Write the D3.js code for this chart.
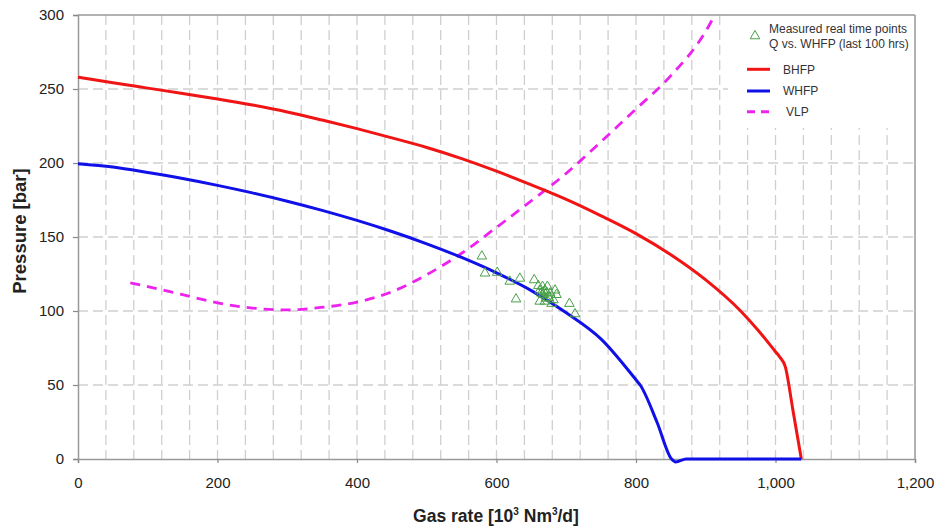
<!DOCTYPE html>
<html><head><meta charset="utf-8">
<script src="https://cdn.jsdelivr.net/npm/d3@7"></script>
<style>
body{margin:0;background:#fff}
svg{display:block;font-family:"Liberation Sans",Arial,sans-serif}
</style>
</head><body>
<svg id="chart" width="936" height="529"></svg>
<script>
// ---- data ----
const bhfpQ = [0, 50, 100, 150, 200, 250, 300, 350, 400, 450, 500, 550, 600, 650, 700, 750, 800, 850, 900, 950, 975, 1000, 1006, 1014, 1025, 1037];
const bhfpP = [258, 254.2, 250.6, 247, 243.3, 239.2, 234.5, 229, 223.2, 217, 210.5, 203, 194.5, 185.2, 175.4, 164.3, 152.3, 138, 121, 100, 87, 72.5, 69, 62.4, 33, 0];

const whfpQ = [0, 50, 100, 150, 200, 250, 300, 350, 400, 450, 500, 550, 600, 650, 700, 750, 800, 806, 830, 851, 857, 872, 950, 1037];
const whfpP = [199.5, 197.3, 193.6, 189.5, 184.9, 179.8, 174.2, 168, 161.2, 153.7, 145.4, 136.2, 125.8, 113.8, 98.8, 81, 53.5, 50, 25, 0, -2, 0, 0, 0];

const vlpQ = [75, 100, 150, 200, 250, 300, 350, 400, 450, 500, 550, 600, 650, 700, 750, 800, 850, 900, 913];
const vlpP = [119, 116.5, 111, 105.5, 102, 100.7, 102.5, 106, 113, 124.5, 139, 156.5, 174.5, 193, 214.5, 236.5, 259, 289, 300];

const measQ = [579, 583.5, 601, 619, 633.5, 628, 654, 662, 667, 669.5, 673, 662, 669.5, 677, 684, 686, 681.5, 679, 704.5, 712.5, 666, 671, 664, 675, 672, 668, 660];
const measP = [137, 125.5, 126, 120, 122, 108, 121, 114, 111, 114, 116.5, 106.5, 106.5, 112, 114, 111, 107.5, 105, 105, 98, 116.5, 108.5, 112, 109, 112.5, 113, 117];

const xTicks = [0, 200, 400, 600, 800, 1000, 1200];
const yTicks = [0, 50, 100, 150, 200, 250, 300];
const legendLabels = ["BHFP", "WHFP", "VLP"];

// ---- layout ----
const svg = d3.select("#chart");
const L = 78, R = 915, T = 15, B = 459;
const x = d3.scaleLinear().domain([0, 1200]).range([L, R]);
const y = d3.scaleLinear().domain([0, 300]).range([B, T]);

// grid
const grid = svg.append("g");
grid.selectAll("line.v").data(d3.range(40, 1200, 40)).join("line")
  .attr("x1", d => x(d)).attr("x2", d => x(d)).attr("y1", T).attr("y2", B)
  .attr("stroke", "#cfcfcf").attr("stroke-width", 1.3).attr("stroke-dasharray", "10,5");
grid.selectAll("line.h").data(d3.range(50, 300, 50)).join("line")
  .attr("x1", L).attr("x2", R).attr("y1", d => y(d)).attr("y2", d => y(d))
  .attr("stroke", "#cfcfcf").attr("stroke-width", 1.3).attr("stroke-dasharray", "10,5");

// legend background (covers grid)
svg.append("rect").attr("x", 728).attr("y", T).attr("width", R - 728).attr("height", 113).attr("fill", "#fff");

// frame top/right
svg.append("line").attr("x1", L).attr("x2", R).attr("y1", T).attr("y2", T).attr("stroke", "#999").attr("stroke-width", 1.5);
svg.append("line").attr("x1", R).attr("x2", R).attr("y1", T).attr("y2", B).attr("stroke", "#999").attr("stroke-width", 1.5);

// axes
const fmt = d3.format(",");
const ax = svg.append("g").attr("transform", `translate(0,${B})`)
  .call(d3.axisBottom(x).tickValues(xTicks).tickFormat(fmt).tickSize(4).tickPadding(14));
const ay = svg.append("g").attr("transform", `translate(${L},0)`)
  .call(d3.axisLeft(y).tickValues(yTicks).tickFormat(fmt).tickSize(5).tickPadding(9));
[ax, ay].forEach(g => {
  g.select(".domain").attr("stroke", "#999").attr("stroke-width", 1.5);
  g.selectAll(".tick line").attr("stroke", "#888").attr("stroke-width", 1.2);
  g.selectAll(".tick text").attr("fill", "#222").style("font-size", "15px").style("font-family", "'Liberation Sans',Arial,sans-serif");
});

// axis titles
const xt = svg.append("text").attr("x", 496).attr("y", 522).attr("text-anchor", "middle")
  .style("font-size", "17.5px").style("font-weight", "bold").attr("fill", "#222");
xt.append("tspan").text("Gas rate [10");
xt.append("tspan").text("3").style("font-size", "10px").attr("dy", -7);
xt.append("tspan").text(" Nm").attr("dy", 7);
xt.append("tspan").text("3").style("font-size", "10px").attr("dy", -7);
xt.append("tspan").text("/d]").attr("dy", 7);

svg.append("text").attr("transform", "translate(26,231) rotate(-90)").attr("text-anchor", "middle")
  .style("font-size", "18.5px").style("font-weight", "bold").attr("fill", "#222").text("Pressure [bar]");

// lines
const line = d3.line().x(d => x(d[0])).y(d => y(d[1])).curve(d3.curveMonotoneX);
const zip = (a, b) => a.map((v, i) => [v, b[i]]);

svg.append("path").datum(zip(vlpQ, vlpP)).attr("d", line)
  .attr("fill", "none").attr("stroke", "#ee22ee").attr("stroke-width", 2.8).attr("stroke-dasharray", "10,7");
svg.append("path").datum(zip(bhfpQ, bhfpP)).attr("d", line)
  .attr("fill", "none").attr("stroke", "#f01414").attr("stroke-width", 3);
svg.append("path").datum(zip(whfpQ, whfpP)).attr("d", line)
  .attr("fill", "none").attr("stroke", "#1010e8").attr("stroke-width", 3);

// measured points
const tri = d3.symbol().type(d3.symbolTriangle).size(40);
svg.append("g").selectAll("path").data(zip(measQ, measP)).join("path")
  .attr("d", tri).attr("transform", d => `translate(${x(d[0])},${y(d[1])})`)
  .attr("fill", "none").attr("stroke", "#4aa04a").attr("stroke-width", 1);

// legend
const lg = svg.append("g").style("font-size", "12px").attr("fill", "#333");
lg.append("path").attr("d", tri).attr("transform", "translate(755,36)")
  .attr("fill", "none").attr("stroke", "#4aa04a").attr("stroke-width", 1);
lg.append("text").attr("x", 769).attr("y", 32.5).text("Measured real time points");
lg.append("text").attr("x", 769).attr("y", 47.5).text("Q vs. WHFP (last 100 hrs)");
const legColors = ["#f01414", "#1010e8", "#ee22ee"];
const legY = [69.3, 91, 111.7];
const legTx = [783, 783, 786];
legendLabels.forEach((lab, i) => {
  lg.append("line").attr("x1", 747).attr("x2", 770).attr("y1", legY[i]).attr("y2", legY[i])
    .attr("stroke", legColors[i]).attr("stroke-width", 3)
    .attr("stroke-dasharray", i === 2 ? "8,6" : null);
  lg.append("text").attr("x", legTx[i]).attr("y", legY[i] + 4.3).text(lab);
});
</script>
</body></html>
